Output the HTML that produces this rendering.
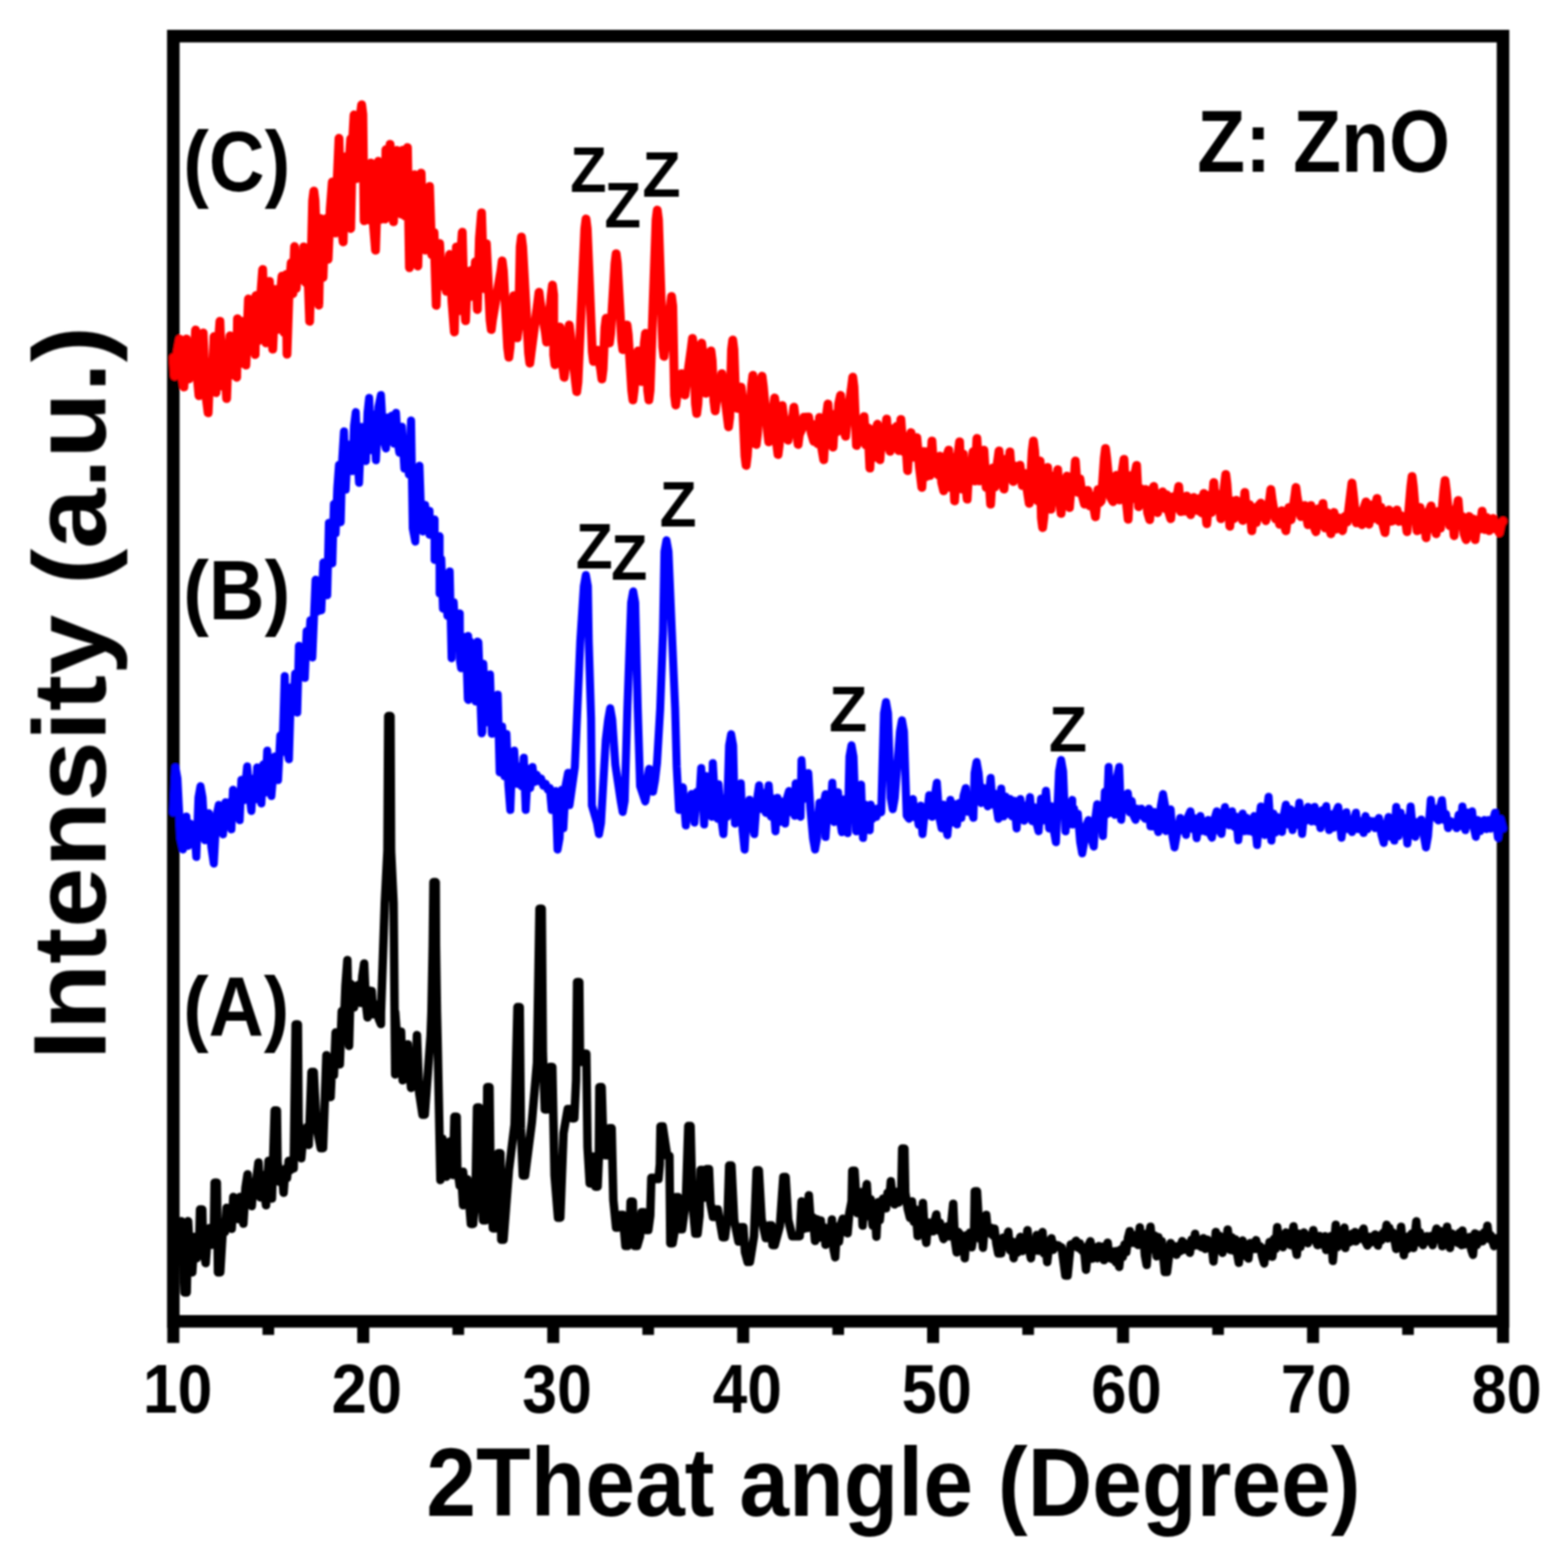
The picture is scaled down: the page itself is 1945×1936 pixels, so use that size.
<!DOCTYPE html>
<html lang="en"><head><meta charset="utf-8"><title>XRD patterns</title>
<style>
html,body{margin:0;padding:0;background:#fff;}
body{width:1945px;height:1936px;overflow:hidden;}
svg{display:block;}
text{font-family:"Liberation Sans",sans-serif;font-weight:bold;fill:#000;}
</style></head><body>
<svg width="1945" height="1936" viewBox="0 0 1945 1936">
<rect x="0" y="0" width="1945" height="1936" fill="#fff"/>
<defs><filter id="soft" x="-2%" y="-2%" width="104%" height="104%" filterUnits="objectBoundingBox"><feGaussianBlur stdDeviation="0.9"/></filter></defs>
<g filter="url(#soft)">
<rect x="215" y="44.8" width="1649.4" height="1594.0" fill="none" stroke="#000" stroke-width="15.6"/>
<rect x="207.5" y="1645.6" width="15" height="20" fill="#000"/><rect x="325.6" y="1645.6" width="14.5" height="10" fill="#000"/><rect x="443.1" y="1645.6" width="15" height="20" fill="#000"/><rect x="561.2" y="1645.6" width="14.5" height="10" fill="#000"/><rect x="678.8" y="1645.6" width="15" height="20" fill="#000"/><rect x="796.8" y="1645.6" width="14.5" height="10" fill="#000"/><rect x="914.4" y="1645.6" width="15" height="20" fill="#000"/><rect x="1032.5" y="1645.6" width="14.5" height="10" fill="#000"/><rect x="1150.0" y="1645.6" width="15" height="20" fill="#000"/><rect x="1268.1" y="1645.6" width="14.5" height="10" fill="#000"/><rect x="1385.6" y="1645.6" width="15" height="20" fill="#000"/><rect x="1503.7" y="1645.6" width="14.5" height="10" fill="#000"/><rect x="1621.3" y="1645.6" width="15" height="20" fill="#000"/><rect x="1739.3" y="1645.6" width="14.5" height="10" fill="#000"/><rect x="1856.9" y="1645.6" width="15" height="20" fill="#000"/>
<polyline points="215.0,1541.6 217.5,1527.6 220.0,1563.9 222.5,1535.1 225.0,1514.6 228.8,1602.9 231.6,1602.9 233.3,1514.6 235.9,1560.7 238.5,1578.0 241.2,1533.9 243.8,1560.5 247.1,1543.6 248.1,1500.1 250.9,1500.1 251.9,1547.9 255.1,1566.5 257.7,1531.0 260.3,1522.9 262.5,1543.8 265.4,1522.3 266.2,1466.8 269.0,1466.8 270.4,1578.0 273.2,1578.0 276.9,1515.9 279.0,1527.8 281.1,1498.0 283.2,1519.4 285.3,1499.1 287.4,1523.9 289.4,1484.5 291.5,1508.0 293.6,1495.0 295.7,1512.0 297.8,1484.5 299.8,1505.3 301.9,1517.6 304.5,1473.1 307.1,1456.4 309.7,1492.0 312.3,1495.8 314.4,1465.9 316.5,1477.3 318.6,1457.8 320.6,1441.8 323.0,1485.1 325.3,1457.2 327.7,1476.9 330.0,1494.8 333.1,1439.7 335.2,1474.6 337.3,1486.4 340.7,1377.3 343.5,1377.3 344.3,1441.2 347.3,1466.0 349.6,1453.1 351.8,1479.2 353.9,1449.6 356.0,1461.0 358.1,1439.7 360.2,1451.3 362.2,1438.7 364.3,1449.0 366.7,1270.6 369.5,1270.6 370.4,1390.1 373.7,1436.5 376.8,1401.3 378.9,1416.4 381.0,1397.7 383.0,1419.9 386.4,1329.5 389.2,1329.5 392.6,1397.6 397.9,1424.0 400.7,1424.0 404.9,1308.7 407.5,1346.0 410.1,1360.6 412.2,1314.0 414.2,1333.4 416.3,1280.6 418.9,1312.2 421.5,1320.0 423.9,1254.1 426.2,1279.9 428.5,1223.0 430.9,1190.8 433.0,1297.2 435.0,1220.5 437.1,1246.7 439.2,1249.3 440.2,1223.0 442.5,1241.2 444.8,1221.4 447.1,1243.8 449.4,1211.1 451.7,1194.9 453.8,1243.5 455.9,1261.8 458.5,1228.8 461.1,1229.2 463.1,1258.0 465.2,1248.5 467.3,1245.9 469.9,1263.7 472.5,1270.1 472.6,1255.2 477.3,1120.0 480.6,1055.1 481.6,888.1 484.4,888.1 485.1,1055.1 488.2,1120.0 490.2,1332.5 490.2,1255.2 495.3,1324.3 497.5,1279.6 499.5,1339.8 501.6,1302.2 503.7,1330.1 505.8,1295.2 507.9,1327.3 509.9,1349.2 512.4,1310.8 514.8,1347.5 517.2,1283.7 519.9,1354.7 524.1,1382.4 526.9,1382.4 534.1,1285.0 535.2,1255.2 536.8,1172.0 537.7,1094.1 540.5,1094.1 540.8,1172.0 542.0,1255.2 542.7,1285.0 546.3,1463.6 548.8,1412.2 551.2,1443.2 553.6,1459.4 555.7,1420.7 557.8,1415.8 559.9,1448.9 561.9,1457.3 563.7,1385.0 566.5,1385.0 567.2,1446.6 570.2,1470.5 572.3,1460.0 574.4,1494.8 574.4,1453.3 577.1,1483.7 579.8,1462.8 584.1,1518.0 586.9,1518.0 589.9,1477.5 591.7,1373.4 594.5,1373.4 596.3,1474.4 599.3,1513.6 602.1,1513.6 603.7,1467.3 604.4,1348.3 607.2,1348.3 608.7,1474.4 611.4,1523.5 614.2,1523.5 616.6,1497.3 617.9,1430.2 620.7,1430.2 621.8,1537.6 624.6,1537.6 631.3,1451.2 638.3,1394.5 641.9,1248.9 644.7,1248.9 646.1,1399.4 648.5,1457.9 651.3,1457.9 659.7,1392.2 666.1,1318.0 669.2,1127.1 672.0,1127.1 673.4,1306.3 675.8,1376.0 678.6,1376.0 681.0,1361.2 682.3,1323.2 685.1,1323.2 687.9,1457.9 692.2,1510.3 695.0,1510.3 699.0,1405.3 704.2,1375.6 707.0,1375.6 709.6,1386.9 712.4,1386.9 714.6,1339.6 715.8,1217.9 718.6,1217.9 719.5,1317.1 722.3,1317.1 724.5,1306.8 727.3,1306.8 728.8,1422.7 731.5,1467.8 734.3,1467.8 734.8,1434.6 737.6,1434.6 738.5,1471.7 741.3,1471.7 742.8,1437.1 743.5,1348.3 746.3,1348.3 748.1,1409.2 751.1,1432.8 753.9,1432.8 755.9,1399.2 758.7,1399.2 760.8,1487.9 764.2,1522.4 767.0,1522.4 769.7,1506.7 772.5,1506.7 775.8,1545.3 778.6,1545.3 780.9,1529.9 782.2,1490.3 785.0,1490.3 785.8,1529.9 787.6,1545.3 790.4,1545.3 793.8,1533.6 795.9,1503.4 798.7,1503.4 801.4,1525.6 804.2,1525.6 806.6,1507.5 807.9,1460.8 810.7,1460.8 814.0,1462.3 816.8,1462.3 818.5,1444.0 819.3,1397.0 822.1,1397.0 827.6,1433.5 830.4,1433.5 831.5,1542.0 834.3,1542.0 837.0,1526.0 838.5,1484.8 841.3,1484.8 843.3,1524.5 846.1,1524.5 850.8,1488.7 853.8,1396.4 856.6,1396.4 858.9,1492.6 862.5,1530.0 865.3,1530.0 867.7,1507.9 869.1,1451.0 871.9,1451.0 872.4,1485.2 875.2,1485.2 876.7,1449.9 879.5,1449.9 881.3,1492.6 884.4,1509.3 887.2,1509.3 887.6,1500.1 890.4,1500.1 896.4,1534.4 899.2,1534.4 902.5,1509.5 904.5,1445.5 907.3,1445.5 910.7,1513.4 916.0,1539.8 918.8,1539.8 919.3,1521.9 922.1,1521.9 924.1,1552.9 927.4,1565.0 930.2,1565.0 935.3,1533.2 938.5,1451.6 941.3,1451.6 944.7,1512.0 949.9,1535.5 952.7,1535.5 954.3,1519.8 957.1,1519.8 958.2,1544.2 961.0,1544.2 967.4,1520.5 971.7,1459.7 974.5,1459.7 977.7,1512.7 982.7,1533.3 985.5,1533.3 989.2,1533.3 992.0,1533.3 994.3,1490.0 996.5,1524.2 998.8,1501.5 1001.1,1523.1 1003.3,1482.4 1005.9,1519.8 1008.4,1509.9 1011.0,1539.0 1013.3,1512.2 1015.7,1535.1 1018.1,1513.8 1020.1,1535.0 1022.1,1522.2 1024.0,1543.8 1026.7,1524.7 1029.3,1540.2 1031.9,1512.6 1033.9,1548.8 1036.0,1559.3 1038.3,1521.5 1040.7,1539.9 1043.1,1518.5 1045.5,1511.4 1047.5,1527.8 1049.4,1513.2 1051.4,1529.5 1053.5,1504.5 1056.4,1489.8 1057.2,1451.9 1060.0,1451.9 1063.3,1504.5 1065.7,1489.3 1068.1,1478.6 1070.0,1520.0 1072.6,1486.4 1075.2,1468.6 1077.6,1508.3 1080.0,1487.5 1082.4,1519.9 1084.8,1497.5 1087.1,1533.8 1089.2,1491.1 1091.3,1513.3 1093.4,1490.7 1095.5,1486.4 1099.0,1498.6 1101.0,1479.3 1103.0,1491.0 1105.0,1465.0 1107.4,1487.4 1109.8,1493.8 1112.3,1478.3 1114.9,1491.4 1118.1,1472.7 1119.1,1424.5 1121.9,1424.5 1122.9,1478.7 1126.1,1499.8 1128.8,1510.5 1131.2,1490.0 1133.6,1515.5 1136.0,1500.3 1138.3,1533.1 1140.5,1505.9 1142.6,1524.1 1144.8,1491.9 1146.9,1527.9 1149.0,1541.4 1151.0,1516.3 1153.0,1527.5 1155.0,1516.2 1157.4,1527.1 1159.4,1514.5 1161.4,1506.2 1163.7,1525.9 1166.0,1516.7 1168.2,1528.9 1170.5,1536.7 1172.9,1526.1 1175.2,1521.0 1177.6,1533.3 1180.0,1517.3 1182.4,1492.9 1184.5,1538.6 1186.7,1553.3 1188.7,1528.1 1190.7,1530.5 1192.7,1551.5 1194.7,1534.4 1196.7,1560.5 1198.8,1531.9 1201.0,1546.6 1203.2,1528.7 1205.3,1546.9 1208.3,1527.5 1209.1,1477.6 1211.9,1477.6 1215.4,1536.3 1217.3,1525.0 1219.3,1547.4 1221.3,1521.1 1223.3,1506.7 1225.5,1528.8 1227.6,1529.5 1229.6,1522.7 1231.6,1532.3 1233.6,1523.8 1236.0,1542.8 1238.3,1554.5 1241.9,1554.5 1244.1,1535.1 1246.3,1545.5 1248.5,1537.4 1250.7,1527.6 1252.9,1550.6 1255.2,1539.8 1257.4,1560.5 1259.5,1540.7 1261.5,1553.9 1263.6,1540.9 1265.7,1534.1 1267.9,1551.6 1270.1,1538.5 1272.3,1548.4 1274.5,1525.7 1276.7,1550.5 1278.8,1560.5 1281.2,1538.5 1283.6,1551.1 1286.0,1531.7 1288.3,1551.3 1290.7,1535.9 1293.1,1528.1 1295.1,1554.8 1297.1,1542.1 1299.0,1565.2 1301.7,1540.8 1304.3,1535.7 1306.5,1550.0 1308.7,1543.5 1311.0,1546.2 1312.9,1544.6 1314.9,1546.4 1316.9,1547.2 1321.5,1581.9 1324.3,1581.9 1328.1,1543.5 1330.3,1546.3 1332.5,1542.1 1334.8,1538.8 1337.1,1547.5 1339.5,1542.1 1341.9,1550.9 1344.5,1547.0 1347.1,1574.8 1349.9,1545.3 1352.6,1539.5 1354.7,1561.1 1356.8,1546.6 1358.9,1555.2 1361.0,1560.5 1363.0,1545.4 1365.1,1555.4 1367.2,1546.3 1369.3,1562.8 1371.7,1548.1 1374.0,1541.2 1376.1,1560.4 1378.2,1553.9 1380.3,1561.9 1382.4,1551.9 1384.4,1565.8 1386.3,1551.4 1388.3,1571.2 1390.5,1549.6 1392.7,1559.1 1394.9,1543.5 1397.1,1552.9 1399.2,1535.3 1401.4,1526.9 1403.4,1541.4 1405.4,1531.6 1407.4,1541.4 1409.5,1531.8 1411.7,1544.0 1413.8,1522.2 1416.0,1544.2 1418.1,1530.2 1420.2,1557.0 1422.4,1568.8 1424.8,1533.4 1427.1,1521.4 1429.7,1549.2 1432.2,1532.5 1434.8,1558.1 1436.9,1534.5 1439.0,1551.5 1441.1,1539.5 1444.8,1577.6 1447.6,1577.6 1452.1,1541.7 1454.5,1552.0 1456.9,1545.6 1459.3,1556.2 1461.7,1545.3 1464.0,1551.7 1466.4,1539.3 1468.8,1550.0 1471.2,1542.6 1473.6,1547.4 1476.0,1553.8 1478.1,1537.5 1480.2,1545.3 1482.4,1530.2 1485.0,1544.4 1487.6,1537.7 1490.2,1546.7 1492.6,1535.7 1495.1,1548.9 1497.7,1537.5 1500.2,1548.6 1502.7,1540.9 1505.2,1564.5 1508.1,1527.9 1510.2,1549.8 1512.3,1532.5 1514.3,1549.4 1516.4,1553.8 1518.6,1534.2 1520.7,1543.3 1522.9,1525.0 1526.0,1550.2 1528.1,1534.7 1530.2,1551.2 1532.4,1537.2 1534.5,1554.0 1536.7,1566.2 1539.0,1542.5 1541.4,1538.6 1543.8,1557.2 1546.2,1545.0 1548.6,1560.9 1550.7,1541.8 1552.7,1549.5 1554.8,1541.4 1556.9,1549.0 1558.1,1538.1 1560.6,1549.0 1563.1,1545.7 1565.6,1558.3 1568.1,1566.9 1570.3,1548.2 1572.5,1558.1 1574.8,1540.5 1578.3,1558.6 1580.3,1536.6 1582.3,1548.9 1584.3,1521.9 1586.7,1542.7 1589.0,1532.2 1591.4,1546.7 1595.0,1528.6 1597.0,1539.5 1599.0,1529.3 1601.0,1544.3 1604.5,1521.0 1606.5,1545.2 1608.6,1556.2 1610.8,1530.0 1613.1,1546.5 1615.4,1534.9 1617.6,1528.6 1620.0,1540.0 1622.4,1541.9 1624.6,1532.3 1626.8,1536.7 1629.0,1525.7 1631.7,1537.7 1634.3,1544.3 1636.7,1532.9 1639.0,1543.4 1641.4,1535.5 1643.8,1533.3 1645.0,1550.2 1647.1,1537.1 1649.2,1549.6 1651.2,1532.9 1653.3,1563.8 1656.9,1519.1 1659.0,1546.5 1661.2,1529.7 1663.3,1542.8 1665.5,1532.4 1667.6,1522.6 1668.8,1547.8 1671.2,1531.3 1673.6,1540.9 1676.0,1530.6 1678.3,1539.0 1680.7,1528.1 1681.9,1539.5 1684.3,1530.6 1686.7,1536.3 1689.0,1528.6 1691.4,1523.8 1693.8,1539.9 1696.2,1544.8 1698.6,1533.9 1701.0,1540.9 1703.3,1535.1 1705.7,1531.0 1709.3,1544.8 1711.4,1532.2 1713.6,1538.2 1715.7,1529.0 1717.9,1532.7 1720.0,1519.1 1721.2,1535.9 1723.3,1522.9 1725.5,1535.0 1727.6,1528.4 1729.8,1537.5 1731.9,1549.0 1733.9,1530.6 1735.9,1545.2 1737.9,1521.4 1741.4,1556.7 1743.4,1537.9 1745.4,1549.3 1747.4,1533.3 1749.4,1544.4 1751.3,1529.9 1753.3,1547.8 1756.9,1514.8 1759.0,1540.7 1761.1,1528.5 1763.2,1538.0 1765.2,1544.3 1767.6,1534.0 1770.0,1533.3 1772.4,1539.7 1774.8,1533.1 1777.1,1544.3 1779.5,1532.6 1781.9,1523.8 1784.3,1536.9 1786.7,1526.9 1789.0,1545.5 1791.0,1529.7 1793.0,1540.2 1795.0,1521.4 1798.6,1547.8 1801.0,1529.9 1803.3,1539.4 1805.7,1532.1 1808.1,1541.5 1810.5,1528.9 1812.9,1544.3 1814.0,1526.2 1816.2,1543.4 1818.4,1534.9 1820.6,1543.1 1822.8,1534.3 1825.0,1549.8 1827.1,1556.2 1829.5,1529.8 1831.9,1543.9 1834.3,1531.4 1836.7,1538.6 1839.0,1539.5 1841.0,1528.4 1843.0,1535.9 1845.0,1520.2 1847.1,1536.7 1849.2,1532.0 1851.2,1539.1 1853.3,1545.5 1855.7,1535.7 1857.9,1542.4 1860.0,1537.5 1862.1,1542.7 1864.3,1535.2" fill="none" stroke="#000" stroke-width="10.5" stroke-linejoin="round" stroke-linecap="round"/>
<polyline points="214.9,1007.7 217.6,951.7 220.1,965.7 223.8,1039.4 226.9,1053.5 231.1,1012.7 233.5,1048.9 236.0,1021.5 238.5,1044.6 241.0,1024.5 243.5,1062.8 246.2,989.1 248.7,975.1 251.2,989.1 254.2,1042.1 256.6,1019.7 259.0,1008.6 262.1,1049.9 265.2,1071.1 268.3,1012.8 271.4,998.3 274.0,1026.9 276.6,1034.8 279.7,995.1 282.1,1016.6 284.5,995.1 287.0,1028.6 289.0,979.6 291.8,1010.3 294.5,982.6 297.3,1017.2 299.4,967.2 302.5,992.4 306.6,950.6 309.2,982.9 311.8,1005.8 314.2,965.8 316.6,991.4 319.0,951.7 321.6,981.9 324.2,996.5 326.6,948.1 329.1,982.9 331.5,931.0 334.1,968.5 336.6,987.2 340.8,938.2 344.9,967.5 347.7,912.1 350.4,932.5 353.2,838.4 355.8,928.0 358.4,941.7 361.0,852.4 363.6,881.3 366.1,835.4 368.7,883.7 370.8,801.1 373.2,836.7 375.6,804.7 378.1,840.8 380.4,782.7 382.7,808.5 385.0,769.3 387.4,815.4 391.4,719.1 393.8,758.4 396.2,721.6 398.6,756.9 401.1,697.6 403.5,720.6 405.9,738.2 408.0,648.4 410.1,683.9 412.2,698.7 414.2,625.1 416.3,661.3 418.4,605.6 420.5,576.6 422.6,647.7 424.6,568.5 426.7,535.0 428.8,607.2 431.6,551.2 434.4,581.4 437.1,584.3 439.2,527.8 441.3,511.1 443.4,565.2 445.4,598.8 448.2,529.6 451.0,563.8 453.8,571.8 455.9,512.0 457.9,493.4 460.7,558.3 463.5,514.2 466.3,570.8 469.4,505.0 472.5,489.9 475.6,545.0 478.7,556.2 481.2,517.7 483.7,544.5 486.2,515.4 488.7,550.1 491.2,512.1 493.3,548.3 495.4,561.4 498.5,529.2 501.6,581.2 504.4,548.9 507.2,588.4 509.9,521.5 512.0,655.0 515.1,671.7 517.7,584.1 520.3,577.6 522.4,640.8 524.5,659.2 527.3,626.2 530.0,651.7 532.8,633.8 532.8,663.3 535.9,647.7 539.1,644.2 539.1,694.5 542.2,668.2 545.3,665.0 545.3,736.1 547.4,693.6 549.5,754.9 552.2,711.8 555.0,763.7 557.8,708.7 560.2,816.4 562.8,747.0 565.3,797.8 567.8,769.9 570.3,760.7 570.6,819.5 572.0,828.8 575.0,795.4 577.9,789.7 580.3,867.1 580.7,788.8 581.0,868.2 583.0,795.4 585.3,848.3 587.7,828.2 590.0,870.1 592.3,795.7 593.4,796.4 597.5,909.6 598.3,907.7 599.5,823.2 602.3,896.1 605.1,850.6 607.8,836.4 610.2,910.1 612.6,869.9 615.0,907.5 617.4,861.5 619.8,958.0 622.8,901.0 625.8,962.8 628.2,910.3 630.6,973.7 633.0,1004.6 635.4,941.4 637.8,930.9 640.1,971.7 642.5,972.3 644.9,950.5 647.3,975.4 649.7,939.7 652.1,1004.6 654.9,953.4 657.7,977.2 660.5,951.2 662.9,969.9 665.7,960.7 668.5,968.8 671.2,965.5 674.0,974.6 676.8,971.9 679.6,979.5 682.0,977.3 684.4,1004.6 686.8,984.3 689.2,981.1 691.6,1053.7 694.1,1039.7 696.7,979.6 698.8,1027.3 701.7,973.9 704.7,958.4 706.4,998.6 713.1,951.0 719.8,795.5 724.2,727.2 726.7,713.2 729.2,727.2 730.3,795.5 733.2,891.2 734.2,998.9 740.5,1020.5 743.0,1034.5 745.5,1020.5 751.4,917.5 754.4,892.3 756.9,878.3 759.4,892.3 763.3,948.6 769.9,993.0 772.4,1007.0 774.9,993.0 778.2,879.2 782.9,747.5 785.4,733.5 787.9,747.5 791.1,879.2 794.0,974.9 800.4,993.9 802.9,979.9 802.7,967.6 805.2,953.6 807.7,967.6 807.5,967.9 810.0,981.9 812.5,967.9 815.0,946.2 818.9,879.2 822.4,783.5 824.2,684.1 826.7,670.1 829.2,684.1 833.4,783.5 837.5,879.2 839.4,951.0 842.3,1004.6 844.7,982.6 847.1,976.3 850.7,1023.8 853.1,991.8 855.5,1012.4 857.8,984.7 861.4,1020.2 864.2,982.3 867.0,999.1 869.8,952.4 873.4,1022.6 875.8,962.5 878.2,1000.8 880.6,970.2 883.0,1013.0 884.2,946.4 887.2,999.5 890.1,1015.4 891.3,972.8 894.3,1012.2 897.3,1034.5 899.5,990.1 901.7,1013.2 904.4,924.6 906.9,910.6 909.4,924.6 911.7,1021.4 914.1,986.0 916.5,1019.6 918.9,971.6 921.2,1030.3 923.6,1053.7 926.6,1003.3 929.6,991.9 932.6,1020.2 935.6,1034.5 938.6,994.8 941.6,973.9 944.4,1003.5 947.2,983.5 950.0,1008.2 953.5,973.9 956.3,1012.7 959.1,990.5 961.9,1030.9 964.3,989.5 966.7,1019.5 969.1,994.1 971.5,1011.2 973.9,1021.4 976.3,989.4 978.7,981.1 981.1,1007.3 983.4,989.2 985.8,1011.8 987.0,971.6 990.0,992.9 993.0,1013.0 994.2,942.8 997.0,990.9 999.8,966.8 1002.6,958.8 1005.3,1003.5 1008.5,1039.6 1011.0,1053.6 1013.5,1039.6 1016.5,995.4 1019.0,1021.1 1021.5,998.0 1024.0,985.0 1024.0,1038.1 1026.8,1000.7 1029.6,1015.8 1032.4,970.7 1034.8,1019.5 1037.1,997.4 1039.5,982.6 1041.9,1016.8 1044.3,1032.1 1046.7,991.5 1049.0,1018.3 1051.4,1033.3 1053.7,938.3 1056.2,924.3 1058.7,938.3 1062.1,1031.0 1065.1,992.2 1068.1,973.1 1070.5,1039.3 1073.3,997.9 1076.0,1017.0 1078.8,1029.8 1080.0,998.1 1082.4,1015.5 1084.8,1003.2 1087.1,1013.1 1090.1,1002.2 1093.1,1007.4 1096.5,884.7 1099.0,870.7 1101.5,884.7 1104.9,989.6 1107.4,1003.6 1109.9,989.6 1116.3,907.3 1118.8,893.3 1121.3,907.3 1124.7,1011.3 1127.6,1015.5 1130.0,998.3 1132.4,991.0 1134.8,1013.6 1137.1,1002.6 1139.5,1023.0 1141.9,999.3 1144.3,1034.5 1147.1,1006.5 1149.8,1011.6 1152.6,986.2 1156.2,1013.1 1159.2,989.6 1162.1,970.7 1165.1,1013.3 1168.1,1027.4 1170.5,997.9 1172.9,1022.4 1175.2,1035.7 1178.8,992.1 1181.6,1020.1 1184.4,997.4 1187.1,1022.6 1189.8,995.9 1192.5,1014.4 1195.2,987.2 1197.9,977.4 1200.2,1006.7 1202.6,988.7 1205.0,1005.9 1207.4,1014.3 1208.9,959.0 1211.4,945.0 1213.9,959.0 1217.1,995.9 1219.8,977.2 1222.5,991.6 1225.2,1000.0 1228.8,964.8 1231.2,997.7 1233.6,984.1 1236.0,1000.1 1238.3,1015.5 1241.9,977.9 1244.6,1012.6 1247.3,987.9 1250.1,1009.6 1252.8,991.0 1255.5,1012.6 1258.2,993.2 1261.0,1027.4 1263.3,997.0 1265.7,991.0 1268.1,1011.9 1270.5,1017.9 1272.9,999.1 1275.2,1009.3 1277.6,988.6 1280.3,1018.4 1283.0,1001.3 1285.7,1020.7 1288.3,1031.0 1291.3,990.6 1294.4,1017.6 1297.4,980.7 1301.4,1027.4 1304.2,999.9 1307.0,1029.0 1309.8,1044.5 1313.7,956.6 1316.2,942.6 1318.7,956.6 1321.7,1031.0 1324.4,996.1 1327.2,1018.0 1330.0,992.1 1330.0,1022.6 1332.3,1002.9 1334.7,1018.9 1337.0,1009.4 1339.9,1044.3 1342.4,1058.3 1344.9,1044.3 1347.8,1022.9 1350.2,1017.1 1353.5,1038.8 1356.7,1050.0 1358.8,1014.2 1361.0,997.4 1363.3,1024.9 1365.7,1002.2 1368.1,1036.9 1370.5,981.9 1372.9,1009.9 1375.2,951.2 1377.9,1008.0 1380.5,973.7 1383.1,1010.6 1385.7,963.3 1388.3,951.2 1390.7,1016.7 1393.5,985.4 1396.3,1003.0 1399.0,983.8 1401.4,1007.6 1403.8,993.4 1406.2,1011.8 1408.6,1016.7 1411.0,1003.1 1413.3,1010.9 1415.7,1002.9 1418.1,1012.8 1420.5,1015.5 1422.9,1005.8 1425.2,1002.9 1427.1,1024.8 1430.0,1025.0 1432.2,1007.1 1434.4,1021.7 1436.7,1031.9 1440.1,998.8 1442.6,984.8 1445.1,998.8 1446.2,1030.7 1449.2,1008.6 1452.1,1003.8 1454.4,1037.0 1456.9,1051.0 1459.4,1037.0 1464.0,1014.5 1466.4,1029.8 1468.8,1017.7 1471.2,1035.5 1473.9,1012.3 1476.7,1006.2 1479.2,1028.1 1481.7,1015.0 1484.3,1039.5 1486.7,1021.1 1489.0,1012.1 1491.4,1030.6 1493.8,1018.7 1496.2,1031.5 1498.6,1016.9 1501.0,1034.1 1503.3,1039.0 1506.3,1016.1 1509.3,1006.2 1512.3,1029.8 1515.2,1034.3 1517.4,1010.8 1519.5,1001.0 1522.1,1019.4 1524.8,1023.6 1528.3,1006.2 1530.9,1025.4 1533.4,1012.8 1536.0,1042.1 1538.7,1015.9 1541.4,1009.0 1543.8,1030.9 1546.2,1014.1 1548.6,1030.7 1551.0,1019.2 1553.3,1031.7 1555.7,1012.1 1559.3,1048.1 1561.7,1018.2 1564.0,1000.2 1566.4,1023.5 1568.8,1035.5 1571.2,1007.9 1573.6,988.3 1577.1,1042.6 1579.5,1009.1 1581.9,1032.6 1584.3,1013.3 1587.3,1029.6 1590.2,1031.9 1592.6,1010.3 1595.0,997.9 1597.8,1022.7 1600.6,1003.6 1603.3,1029.5 1606.1,1006.2 1608.9,1022.9 1611.7,995.5 1615.2,1034.3 1617.6,1009.0 1620.0,1017.9 1622.4,1000.7 1624.8,1015.2 1627.1,1018.8 1630.7,1000.7 1633.1,1019.4 1635.5,1006.6 1637.9,1027.1 1640.2,1004.7 1642.6,1020.5 1645.0,999.8 1648.6,1029.5 1651.4,1009.9 1654.3,1026.6 1657.1,1007.0 1660.0,1000.7 1664.0,1039.0 1667.0,1017.3 1670.0,1007.4 1672.4,1028.4 1674.8,1016.7 1677.1,1031.9 1679.5,1016.3 1681.9,1007.9 1684.3,1028.3 1686.7,1018.0 1689.0,1025.7 1691.4,1033.1 1693.8,1012.1 1696.2,1028.3 1698.6,1017.7 1701.0,1023.6 1703.3,1018.4 1705.7,1027.1 1708.1,1019.6 1710.5,1014.5 1713.5,1035.0 1716.4,1045.5 1719.4,1024.6 1722.4,1013.3 1724.8,1038.0 1727.1,1017.5 1729.5,1042.6 1731.9,1000.7 1734.7,1037.0 1737.4,1008.0 1740.2,1031.2 1743.0,1014.8 1745.7,1046.2 1749.8,1000.2 1752.7,1030.6 1755.7,1037.9 1758.1,1019.6 1760.5,1029.7 1762.9,1016.4 1766.3,1037.0 1768.8,1051.0 1771.3,1037.0 1774.8,991.9 1777.1,1011.4 1779.5,1002.8 1781.9,1015.1 1784.3,1017.6 1786.4,1000.6 1788.6,992.4 1791.1,1017.0 1793.7,1009.4 1796.2,1027.1 1798.6,1018.1 1801.0,1019.3 1803.9,1022.7 1806.9,1027.1 1809.3,1010.6 1811.7,1024.4 1814.0,1000.2 1817.6,1029.5 1820.4,1007.8 1823.2,1023.2 1826.0,1006.2 1828.3,1027.0 1830.7,1037.9 1833.4,1017.1 1836.1,1030.8 1838.8,1019.3 1841.4,1016.9 1843.8,1028.3 1846.5,1017.1 1849.2,1027.7 1851.8,1017.5 1854.5,1007.9 1858.1,1039.0 1861.2,1015.8 1864.3,1027.4" fill="none" stroke="#0000ff" stroke-width="10" stroke-linejoin="round" stroke-linecap="round"/>
<polyline points="215.0,443.5 216.6,466.4 219.8,437.7 222.9,420.6 225.5,466.5 228.1,479.9 231.2,420.6 234.1,470.1 236.9,437.2 239.8,467.0 242.6,409.2 244.7,467.8 246.8,490.8 249.4,431.0 252.0,412.9 255.1,488.0 258.2,512.0 260.7,449.2 263.1,474.5 265.5,417.5 267.9,487.0 270.4,431.9 272.8,398.4 275.6,479.0 278.3,440.1 281.1,494.3 283.2,434.5 285.3,416.5 288.1,464.9 290.8,426.5 293.6,467.9 294.6,395.3 297.2,451.3 299.8,398.5 302.4,428.5 305.0,452.7 308.2,370.7 310.9,417.8 313.7,387.2 316.5,439.8 317.5,366.6 320.3,422.6 323.1,370.4 325.8,334.3 327.9,398.3 330.0,425.2 332.1,368.2 334.2,348.9 336.2,401.9 338.3,433.1 341.4,358.9 344.2,408.6 347.0,372.4 349.8,342.6 352.4,412.5 355.0,340.5 356.0,439.2 358.6,360.6 361.2,326.0 363.3,364.2 365.4,305.8 367.4,357.6 369.9,321.7 372.3,338.6 374.7,347.2 376.8,306.2 379.2,350.3 381.7,330.3 384.1,398.6 387.8,249.0 389.3,237.0 390.8,249.0 395.5,378.4 397.6,270.9 400.7,344.1 402.8,283.1 404.9,270.9 407.0,321.6 409.6,259.5 412.2,225.7 414.2,276.9 416.3,289.0 418.4,220.6 420.5,171.6 423.1,278.0 425.7,300.0 428.0,194.4 430.4,250.0 432.7,206.7 435.0,172.1 435.0,283.4 437.1,180.3 439.2,142.5 442.3,221.4 447.1,142.0 448.6,130.0 450.1,142.0 451.7,273.8 454.5,206.6 457.2,272.7 460.0,202.2 462.9,274.4 465.8,310.2 469.4,200.1 472.1,272.1 474.9,211.5 477.7,271.7 478.7,185.6 481.3,245.1 483.9,178.9 486.0,251.7 488.1,275.1 490.2,200.3 492.3,186.6 494.9,253.1 497.5,265.5 499.5,186.2 502.4,267.9 505.4,182.9 507.9,332.0 511.0,235.4 514.1,216.8 516.2,288.5 518.3,330.0 520.3,250.6 522.4,214.7 525.0,296.8 527.6,310.2 530.2,254.3 532.8,231.3 535.6,315.9 538.4,288.4 541.1,378.8 543.2,308.8 545.3,302.1 548.1,354.7 550.8,324.7 553.6,361.2 555.7,329.5 557.8,315.6 560.7,374.9 563.6,411.7 566.1,306.2 568.5,385.5 570.9,322.6 573.4,288.1 575.5,370.3 577.5,397.8 580.0,336.5 582.4,368.2 584.8,335.3 587.2,364.1 589.7,324.7 592.1,384.0 594.7,295.2 597.3,264.0 600.3,357.9 603.3,302.3 607.9,396.7 609.4,408.7 610.9,396.7 621.4,335.6 622.9,323.6 624.4,335.6 629.7,431.1 631.2,443.1 632.7,431.1 635.9,378.7 637.4,366.7 638.9,378.7 640.1,407.1 641.6,419.1 643.1,407.1 645.3,305.9 646.8,293.9 648.3,305.9 655.7,438.4 657.2,450.4 658.7,438.4 667.1,374.5 668.6,362.5 670.1,374.5 676.5,412.3 678.0,424.3 679.5,412.3 683.8,365.6 685.3,353.6 686.8,365.6 686.9,440.4 688.4,452.4 689.9,440.4 693.1,417.6 694.6,405.6 696.1,417.6 698.3,456.0 699.8,468.0 701.3,456.0 704.6,415.1 706.1,403.1 707.6,415.1 713.9,473.7 715.4,485.7 716.9,473.7 725.4,283.6 726.9,271.6 728.4,283.6 734.7,436.3 736.2,448.3 741.4,434.3 742.9,446.3 745.1,458.1 746.6,470.1 748.1,458.1 750.3,406.8 751.8,394.8 753.3,406.8 754.5,413.4 756.0,425.4 757.5,413.4 762.8,326.7 764.3,314.7 765.8,326.7 771.1,421.7 772.6,433.7 774.1,421.7 776.3,415.1 777.8,403.1 779.3,415.1 783.6,484.1 785.1,496.1 786.6,484.1 789.9,447.3 791.4,435.3 792.9,447.3 794.0,461.2 795.5,473.2 797.0,461.2 799.2,425.5 800.7,413.5 802.2,425.5 803.4,484.1 804.9,496.1 806.4,484.1 813.8,272.6 815.3,260.6 816.8,272.6 822.1,430.0 823.6,442.0 825.1,430.0 831.5,379.7 833.0,367.7 834.5,379.7 836.7,490.4 838.2,502.4 839.7,490.4 843.9,475.4 845.4,463.4 846.9,475.4 848.1,477.9 849.6,489.9 851.1,477.9 857.5,431.7 859.0,419.7 860.5,431.7 862.7,500.8 864.2,512.8 865.7,500.8 868.9,437.6 870.4,425.6 871.9,437.6 874.1,475.8 875.6,487.8 877.1,475.8 880.4,447.3 881.9,435.3 883.4,447.3 885.6,497.6 887.1,509.6 888.6,497.6 893.9,475.4 895.4,463.4 896.9,475.4 902.2,517.4 903.7,529.4 905.2,517.4 907.4,433.8 908.9,421.8 910.4,433.8 912.6,494.5 914.1,506.5 915.6,494.5 917.8,492.1 919.3,480.1 920.8,492.1 924.0,565.2 925.5,577.2 927.0,565.2 932.4,477.5 933.9,465.5 935.4,477.5 936.5,539.2 938.0,551.2 939.5,539.2 943.8,478.6 945.3,466.6 946.8,478.6 952.1,536.1 953.6,548.1 955.1,536.1 959.4,505.6 960.9,493.6 962.4,505.6 963.6,551.7 965.1,563.7 966.6,551.7 968.8,515.0 970.3,503.0 971.8,515.0 976.0,534.0 977.5,546.0 979.0,534.0 983.3,517.0 984.8,505.0 986.3,517.0 988.5,539.2 990.0,551.2 991.5,539.2 995.8,529.5 997.3,517.5 1003.1,517.3 1006.2,536.4 1009.4,547.3 1011.8,526.5 1014.2,550.3 1016.6,517.7 1019.2,555.0 1021.8,570.2 1024.4,520.8 1027.0,501.1 1030.2,548.0 1033.3,554.6 1035.6,513.7 1038.0,535.7 1040.3,501.0 1042.6,490.3 1045.8,531.4 1048.9,541.1 1051.9,510.9 1056.3,479.8 1057.8,467.8 1059.3,479.8 1062.4,552.5 1064.7,524.8 1067.1,548.3 1069.4,522.5 1071.8,516.7 1074.2,552.1 1076.6,530.8 1079.0,580.6 1081.4,532.9 1083.7,567.3 1086.1,535.2 1088.4,526.1 1091.5,570.2 1094.3,531.5 1097.1,554.1 1099.8,519.8 1101.9,551.2 1104.0,559.8 1106.7,531.9 1109.4,549.2 1112.1,528.8 1114.8,558.9 1117.5,520.2 1120.3,559.9 1123.1,541.4 1125.8,583.7 1127.9,545.8 1130.0,536.5 1133.1,567.1 1135.2,550.8 1137.3,542.7 1140.4,578.5 1143.5,604.5 1146.0,559.9 1148.5,591.2 1151.0,560.0 1153.5,589.8 1156.0,546.9 1158.4,585.2 1160.9,568.2 1163.3,588.6 1165.7,565.8 1168.1,598.4 1170.6,608.7 1173.7,567.3 1176.8,558.3 1179.2,604.9 1181.7,566.9 1184.1,621.2 1187.2,572.7 1190.3,547.9 1192.7,606.5 1195.0,563.3 1197.3,593.4 1199.7,619.1 1202.1,573.1 1204.5,592.2 1206.9,560.3 1209.3,596.6 1211.8,543.7 1214.7,596.5 1217.6,569.7 1220.5,558.3 1223.3,604.6 1226.0,582.4 1228.8,625.3 1231.4,580.4 1234.0,604.0 1236.6,578.5 1239.2,559.3 1242.3,594.3 1245.4,606.6 1247.9,569.6 1250.3,591.1 1252.7,560.4 1254.8,588.1 1256.9,597.2 1259.7,578.1 1262.4,593.2 1265.2,577.0 1268.1,602.1 1270.9,587.2 1273.8,605.3 1276.7,624.3 1280.4,558.9 1281.9,546.9 1283.4,558.9 1287.1,621.2 1290.2,571.8 1291.8,642.4 1293.3,654.4 1294.8,642.4 1299.5,579.7 1301.6,612.7 1303.7,631.6 1306.5,590.2 1309.2,620.4 1312.0,582.6 1314.1,618.9 1316.2,636.8 1318.6,598.6 1321.0,624.9 1323.5,590.5 1326.6,629.5 1329.0,598.5 1331.4,609.0 1333.9,571.8 1336.7,610.6 1339.6,594.0 1342.4,614.4 1345.3,625.3 1347.4,608.6 1349.5,608.2 1351.8,627.3 1354.1,614.8 1356.5,628.3 1358.8,640.9 1361.9,607.2 1364.0,623.5 1366.1,621.2 1369.8,568.2 1371.3,556.2 1372.8,568.2 1377.5,616.7 1380.7,622.2 1382.7,599.0 1384.8,589.5 1386.9,609.1 1389.0,620.1 1391.6,586.9 1394.2,569.7 1396.8,618.9 1399.4,644.0 1402.0,590.0 1404.7,618.6 1407.3,589.6 1409.9,577.2 1412.4,628.4 1415.3,606.1 1418.2,624.2 1421.1,607.1 1423.6,636.0 1426.1,644.5 1428.6,611.0 1431.1,603.3 1433.5,627.8 1436.0,635.8 1439.1,613.5 1442.2,610.0 1444.7,630.5 1447.2,613.7 1449.7,634.9 1452.2,643.3 1454.7,616.2 1457.1,630.4 1459.6,618.2 1462.1,603.3 1464.6,634.5 1467.1,619.2 1469.6,633.9 1472.0,615.2 1474.5,632.3 1477.0,638.3 1480.7,617.0 1483.2,628.4 1485.7,633.3 1488.2,618.1 1490.7,636.2 1493.2,612.0 1496.9,649.5 1499.8,614.2 1502.7,635.5 1505.6,598.4 1508.5,632.0 1511.4,613.3 1514.3,643.3 1519.0,600.4 1520.5,588.4 1522.0,600.4 1525.5,652.7 1528.1,621.3 1530.8,643.2 1533.5,620.4 1536.1,639.4 1538.8,625.3 1541.4,645.5 1544.1,610.8 1547.0,643.3 1549.9,625.9 1552.8,658.2 1555.6,629.8 1558.4,648.1 1561.2,627.3 1564.0,623.9 1567.1,639.2 1570.2,645.7 1574.9,619.1 1576.4,607.1 1577.9,619.1 1582.0,643.4 1584.6,635.0 1587.2,650.2 1589.8,633.5 1592.4,648.4 1595.0,658.2 1598.8,629.4 1601.6,644.5 1606.0,616.6 1607.5,604.6 1609.0,616.6 1613.7,640.8 1616.1,630.9 1618.6,626.9 1622.4,650.7 1626.1,626.9 1629.2,651.0 1632.3,659.4 1635.2,631.1 1638.1,649.7 1641.0,624.4 1643.5,654.8 1646.0,635.7 1648.4,653.3 1650.9,661.9 1654.7,635.6 1657.3,656.3 1660.0,642.1 1662.7,653.4 1665.3,658.2 1668.2,640.4 1671.1,647.5 1675.5,611.1 1677.0,599.1 1678.5,611.1 1682.4,648.4 1684.7,634.3 1687.1,646.0 1689.4,650.7 1691.9,629.8 1694.4,622.5 1698.1,650.2 1700.6,626.3 1703.1,643.2 1705.6,629.5 1708.1,618.2 1710.6,645.6 1713.0,629.3 1715.5,651.2 1718.0,660.6 1720.5,634.3 1723.0,632.4 1725.5,646.5 1728.0,645.7 1730.4,637.7 1732.9,632.4 1735.4,646.7 1737.9,639.5 1740.4,646.8 1742.9,640.7 1745.3,659.4 1750.1,602.9 1751.6,590.9 1753.1,602.9 1757.8,658.2 1761.5,629.4 1764.0,656.9 1766.5,635.9 1768.9,666.9 1772.0,635.0 1775.2,627.4 1778.3,652.3 1781.4,661.9 1784.1,634.3 1786.8,655.1 1791.0,607.9 1792.5,595.9 1794.0,607.9 1798.3,651.9 1801.0,632.6 1803.7,664.4 1806.2,635.5 1808.7,620.7 1811.2,651.7 1813.7,640.5 1816.1,662.1 1818.6,669.3 1822.4,640.6 1824.8,662.0 1827.3,643.7 1829.8,669.3 1832.7,644.8 1835.6,656.1 1838.5,633.9 1841.4,656.7 1844.3,642.0 1847.2,658.2 1849.7,647.8 1852.2,643.1 1854.7,655.9 1857.1,649.1 1859.6,660.6 1862.0,649.2 1864.3,646.3" fill="none" stroke="#ff0000" stroke-width="11" stroke-linejoin="round" stroke-linecap="round"/>
<text font-size="100" transform="translate(177.15,1752.04) scale(0.7762,0.8551)">10</text><text font-size="100" transform="translate(411.18,1752.04) scale(0.7865,0.8551)">20</text><text font-size="100" transform="translate(647.81,1751.83) scale(0.7771,0.8521)">30</text><text font-size="100" transform="translate(884.03,1752.04) scale(0.7716,0.8551)">40</text><text font-size="100" transform="translate(1118.47,1752.04) scale(0.7827,0.8551)">50</text><text font-size="100" transform="translate(1353.49,1752.04) scale(0.7884,0.8551)">60</text><text font-size="100" transform="translate(1588.70,1752.04) scale(0.7922,0.8551)">70</text><text font-size="100" transform="translate(1825.15,1752.04) scale(0.7846,0.8551)">80</text>
<text font-size="100" transform="translate(528.72,1879.88) scale(1.1095,1.2149)">2Theat angle (Degree)</text>
<text font-size="100" transform="translate(130.91,1314.66) rotate(-90) scale(1.3429,1.2718)">Intensity (a.u.)</text>
<text font-size="100" transform="translate(1485.08,212.80) scale(0.9738,1.0982)">Z: ZnO</text>
<text font-size="100" transform="translate(227.21,237.22) scale(0.9577,1.0595)">(C)</text>
<text font-size="100" transform="translate(227.21,767.57) scale(0.9577,1.0424)">(B)</text>
<text font-size="100" transform="translate(227.26,1283.94) scale(0.9476,1.0391)">(A)</text>
<text font-size="100" transform="translate(707.28,238.00) scale(0.7403,0.7956)">Z</text>
<text font-size="100" transform="translate(749.67,282.00) scale(0.7439,0.7985)">Z</text>
<text font-size="100" transform="translate(796.67,243.70) scale(0.7783,0.7942)">Z</text>
<text font-size="100" transform="translate(714.15,704.70) scale(0.7493,0.7898)">Z</text>
<text font-size="100" transform="translate(757.99,718.50) scale(0.7367,0.7913)">Z</text>
<text font-size="100" transform="translate(818.35,653.00) scale(0.7493,0.7913)">Z</text>
<text font-size="100" transform="translate(1028.27,907.00) scale(0.7765,0.8044)">Z</text>
<text font-size="100" transform="translate(1300.97,931.90) scale(0.7765,0.8044)">Z</text>
</g>
</svg>
</body></html>
